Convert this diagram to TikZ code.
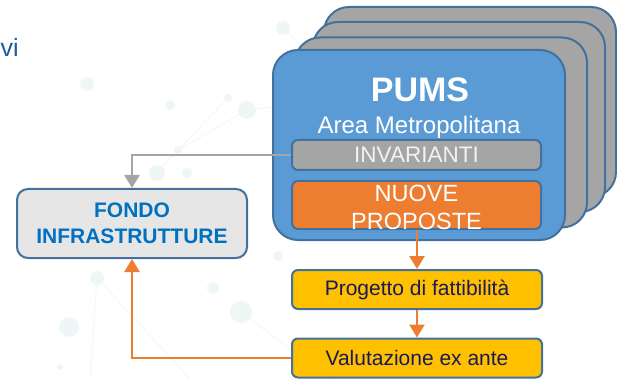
\documentclass[tikz,border=0pt]{standalone}
\usepackage{fontspec}
\setmainfont{Liberation Sans}
\usetikzlibrary{arrows.meta}
\definecolor{pblue}{HTML}{5B9BD5}
\definecolor{bord}{HTML}{41719C}
\definecolor{pgray}{HTML}{A5A5A5}
\definecolor{porange}{HTML}{ED7D31}
\definecolor{pyellow}{HTML}{FFC000}
\definecolor{fondofill}{HTML}{E7E6E6}
\definecolor{fondotext}{HTML}{0070C0}
\definecolor{navy}{HTML}{1A1A5A}
\definecolor{titleblue}{HTML}{1F5C9E}
\definecolor{bgdot}{HTML}{EFF6F6}
\definecolor{bgline}{HTML}{F4F7F7}
\tikzset{
  stackbox/.style={draw=bord, line width=2pt, rounded corners=25pt, minimum width=292pt, minimum height=190pt, inner sep=0pt},
  innerbox/.style={draw=bord, line width=2pt, rounded corners=6pt, minimum width=249pt, inner sep=0pt},
  flowbox/.style={draw=bord, line width=2pt, fill=pyellow, rounded corners=6pt, minimum width=250pt, minimum height=39pt, inner sep=0pt, text=navy, font=\fontsize{21}{25}\selectfont},
  fondobox/.style={draw=bord, line width=2pt, fill=fondofill, rounded corners=11pt, minimum width=230pt, minimum height=69pt, inner sep=0pt, align=center, text=fondotext, font=\fontsize{21}{26}\selectfont\bfseries},
  grayarrow/.style={draw=pgray, line width=2.5pt, -{Triangle[width=15pt,length=13pt]}},
  orangearrow/.style={draw=porange, line width=2.5pt, -{Triangle[width=15pt,length=13pt]}},
  bgcirc/.style={fill=bgdot},
  bgln/.style={draw=bgline, line width=1pt}
}
\begin{document}
\begin{tikzpicture}[x=1pt,y=-1pt]
\useasboundingbox (0,0) rectangle (617,379);
% faint background network
\draw[bgln] (178,150) -- (228,98) (178,150) -- (247,110) -- (273,107) (157,172) -- (178,150);
\draw[bgln] (97,278) -- (90,379) (97,278) -- (190,379) (241,312) -- (330,379) (283,28) -- (300,45);
\fill[bgcirc] (283,28) circle (7) (87,84) circle (7) (170,105) circle (5) (247,110) circle (9)
  (228,98) circle (4) (178,150) circle (4) (157,173) circle (8) (187,173) circle (5)
  (97,278) circle (7) (69,327) circle (10) (213,288) circle (6) (241,312) circle (11)
  (278,256) circle (5) (60,367) circle (3);
% title fragment
\node[anchor=base west, inner sep=0pt, text=titleblue, font=\fontsize{25}{27}\selectfont] (title) at (0.5,57) {vi};
% stacked PUMS boxes
\node[stackbox, fill=pgray] (s4) at (470,102) {};
\node[stackbox, fill=pgray] (s3) at (459,117) {};
\node[stackbox, fill=pgray] (s2) at (441,132.5) {};
\node[stackbox, fill=pblue] (pums) at (419,145) {};
\node[text=white, font=\fontsize{34}{36}\selectfont\bfseries, inner sep=0pt] (pumstitle) at (420,90) {PUMS};
\node[text=white, font=\fontsize{24}{26}\selectfont, inner sep=0pt] (area) at (419,127) {Area Metropolitana};
\node[innerbox, fill=pgray, minimum height=30pt, text=white!95!black, font=\fontsize{22.5}{24}\selectfont] (inv) at (416.5,155) {INVARIANTI};
\node[innerbox, fill=porange, minimum height=48pt] (nuove) at (416.5,205) {};
\node[text=white, align=center, inner sep=0pt, font=\fontsize{23.5}{28}\selectfont] (nuovetxt) at (416.5,207) {NUOVE\\PROPOSTE};
% flow boxes
\node[fondobox] (fondo) at (132,223.5) {FONDO\\INFRASTRUTTURE};
\node[flowbox] (prog) at (417,289.5) {Progetto di fattibilità};
\node[flowbox] (val) at (417,358) {Valutazione ex ante};
% connectors
\draw[grayarrow] (inv.west) -| (fondo.north);
\draw[orangearrow] (nuove.south -| prog.north) -- (prog.north);
\draw[orangearrow] (prog.south) -- (val.north);
\draw[orangearrow] (val.west) -| (fondo.south);
\end{tikzpicture}
\end{document}
